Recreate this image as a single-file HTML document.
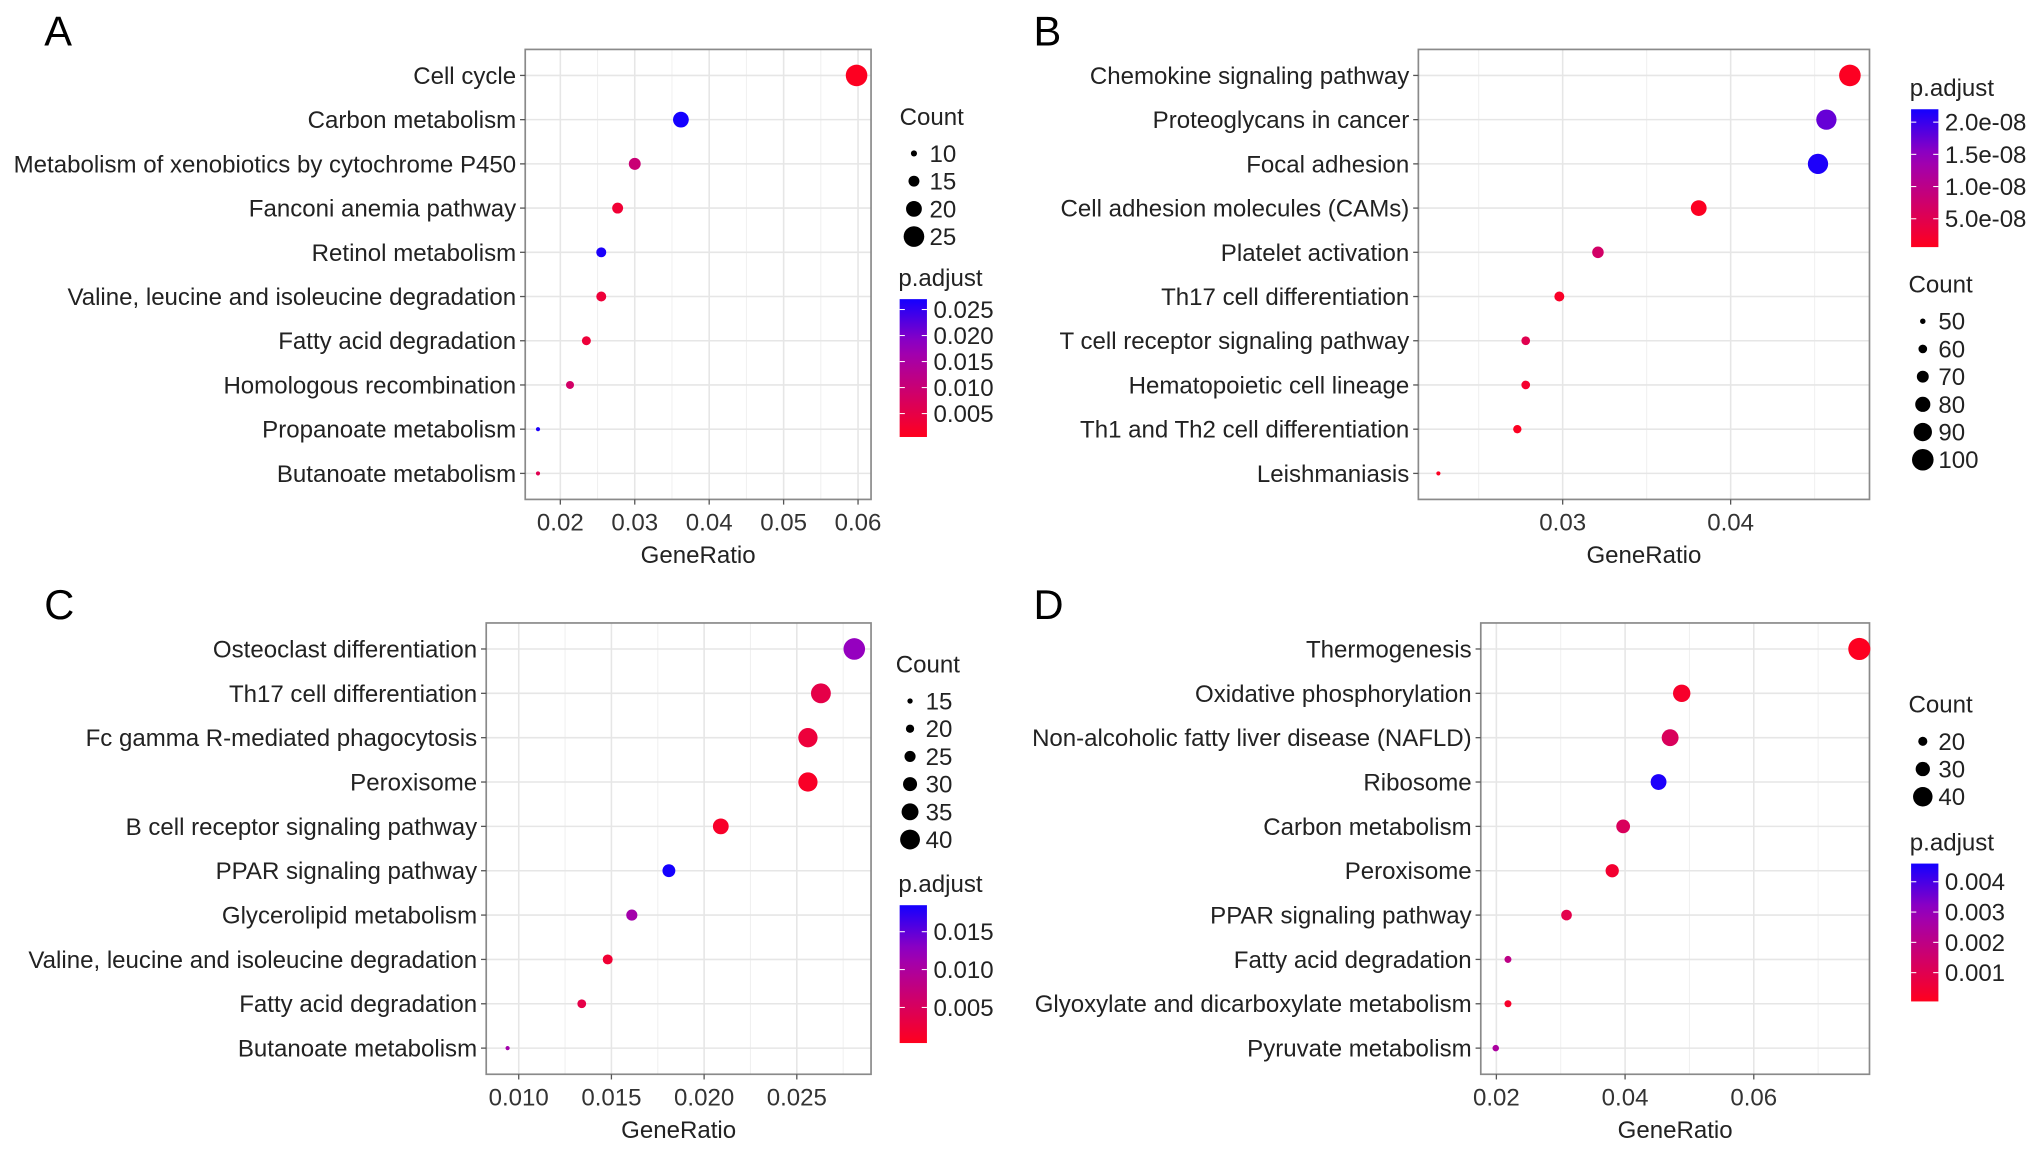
<!DOCTYPE html>
<html><head><meta charset="utf-8"><style>
html,body{margin:0;padding:0;background:#fff;}
svg{display:block;font-family:"Liberation Sans",Arial,sans-serif;}
</style></head><body>
<svg id="fig" width="2032" height="1151" viewBox="0 0 1563 885" preserveAspectRatio="none" xmlns="http://www.w3.org/2000/svg"></svg>
<script>
// ---- Panel A data ----
const termsA = ["Cell cycle","Carbon metabolism","Metabolism of xenobiotics by cytochrome P450","Fanconi anemia pathway","Retinol metabolism","Valine, leucine and isoleucine degradation","Fatty acid degradation","Homologous recombination","Propanoate metabolism","Butanoate metabolism"];
const ratioA = [0.0598,0.0362,0.0300,0.0277,0.0255,0.0255,0.0235,0.0213,0.0170,0.0170];
const countA = [26,20,16,15,14,14,13,12,8,8];
const padjA = [0.0008,0.0270,0.0100,0.0030,0.0265,0.0035,0.0035,0.0085,0.0265,0.0060];
const ticksA = [0.02,0.03,0.04,0.05,0.06];
const tickLabelsA = ["0.02","0.03","0.04","0.05","0.06"];
const countLegA = [10,15,20,25];
const padjLegA = [0.025,0.020,0.015,0.010,0.005];
const padjLegLabelsA = ["0.025","0.020","0.015","0.010","0.005"];
// ---- Panel B data ----
const termsB = ["Chemokine signaling pathway","Proteoglycans in cancer","Focal adhesion","Cell adhesion molecules (CAMs)","Platelet activation","Th17 cell differentiation","T cell receptor signaling pathway","Hematopoietic cell lineage","Th1 and Th2 cell differentiation","Leishmaniasis"];
const ratioB = [0.0471,0.0457,0.0452,0.0381,0.0321,0.0298,0.0278,0.0278,0.0273,0.0226];
const countB = [100,96,96,82,69,64,60,60,59,46];
const padjB = [1e-9,1.75e-8,2.15e-8,1e-9,7e-9,1.5e-9,5e-9,2e-9,1e-9,1e-9];
const ticksB = [0.03,0.04];
const tickLabelsB = ["0.03","0.04"];
const countLegB = [50,60,70,80,90,100];
const padjLegB = [2.0e-8,1.5e-8,1.0e-8,0.5e-8];
const padjLegLabelsB = ["2.0e-08","1.5e-08","1.0e-08","5.0e-08"];
// ---- Panel C data ----
const termsC = ["Osteoclast differentiation","Th17 cell differentiation","Fc gamma R-mediated phagocytosis","Peroxisome","B cell receptor signaling pathway","PPAR signaling pathway","Glycerolipid metabolism","Valine, leucine and isoleucine degradation","Fatty acid degradation","Butanoate metabolism"];
const ratioC = [0.0281,0.0263,0.0256,0.0256,0.0209,0.0181,0.0161,0.0148,0.0134,0.0094];
const countC = [43,40,39,39,33,28,25,23,21,13];
const padjC = [0.0125,0.0035,0.0025,0.0010,0.0012,0.0185,0.0110,0.0020,0.0035,0.0110];
const ticksC = [0.010,0.015,0.020,0.025];
const tickLabelsC = ["0.010","0.015","0.020","0.025"];
const countLegC = [15,20,25,30,35,40];
const padjLegC = [0.015,0.010,0.005];
const padjLegLabelsC = ["0.015","0.010","0.005"];
// ---- Panel D data ----
const termsD = ["Thermogenesis","Oxidative phosphorylation","Non-alcoholic fatty liver disease (NAFLD)","Ribosome","Carbon metabolism","Peroxisome","PPAR signaling pathway","Fatty acid degradation","Glyoxylate and dicarboxylate metabolism","Pyruvate metabolism"];
const ratioD = [0.0764,0.0488,0.0470,0.0452,0.0397,0.0380,0.0309,0.0218,0.0218,0.0199];
const countD = [45,36,35,33,29,28,23,16,16,15];
const padjD = [0.0001,0.0003,0.0012,0.0045,0.0012,0.0004,0.0009,0.0020,0.0003,0.0025];
const ticksD = [0.02,0.04,0.06];
const tickLabelsD = ["0.02","0.04","0.06"];
const countLegD = [20,30,40];
const padjLegD = [0.004,0.003,0.002,0.001];
const padjLegLabelsD = ["0.004","0.003","0.002","0.001"];

const NS="http://www.w3.org/2000/svg";
const FS=18.5;
const svg=document.getElementById('fig');
function mk(tag,attrs,parent){const e=document.createElementNS(NS,tag);for(const k in attrs)e.setAttribute(k,attrs[k]);(parent||svg).appendChild(e);return e;}
function lerp(a,b,t){return a+(b-a)*t;}
function colorOf(t){t=Math.max(0,Math.min(1,t));
  const stops=[[255,0,30],[205,0,110],[150,0,190],[20,0,255]];
  const s=t*3,i=Math.min(2,Math.floor(s)),f=s-i;const a=stops[i],b=stops[i+1];
  return `rgb(${Math.round(lerp(a[0],b[0],f))},${Math.round(lerp(a[1],b[1],f))},${Math.round(lerp(a[2],b[2],f))})`;}

function drawPanel(P){
  const g=mk('g',{});
  
  
  const L=mk('text',{x:P.letterX,y:P.letterY,'font-size':32,fill:'#000'},g);L.textContent=P.id;
  
  
  const xs=v=>P.x0+(v-P.v0)*P.k;
  const ys=i=>P.yTop+i*P.step;
  mk('rect',{x:P.bx0,y:P.by0,width:P.bx1-P.bx0,height:P.by1-P.by0,fill:'#fff'},g);
  const dt=P.ticks[1]-P.ticks[0];
  for(let v=P.ticks[0]-dt*3;v<=P.ticks[P.ticks.length-1]+dt*3;v+=dt/2){
    const x=xs(v);if(x<=P.bx0+1||x>=P.bx1-1)continue;
    mk('line',{x1:x,x2:x,y1:P.by0,y2:P.by1,stroke:'#f0f0f0','stroke-width':0.8},g);}
  P.ticks.forEach(v=>{const x=xs(v);mk('line',{x1:x,x2:x,y1:P.by0,y2:P.by1,stroke:'#e6e6e6','stroke-width':1.2},g);});
  P.terms.forEach((t,i)=>{mk('line',{x1:P.bx0,x2:P.bx1,y1:ys(i),y2:ys(i),stroke:'#e6e6e6','stroke-width':1.2},g);});
  mk('rect',{x:P.bx0,y:P.by0,width:P.bx1-P.bx0,height:P.by1-P.by0,fill:'none',stroke:'#8a8a8a','stroke-width':1.3},g);
  P.terms.forEach((t,i)=>{
    mk('line',{x1:P.bx0-4,x2:P.bx0,y1:ys(i),y2:ys(i),stroke:'#555','stroke-width':1},g);
    const tx=mk('text',{x:P.bx0-7,y:ys(i)+6.5,'text-anchor':'end','font-size':FS,fill:'#222'},g);tx.textContent=t;
    
    
  });
  P.ticks.forEach((v,i)=>{const x=xs(v);
    mk('line',{x1:x,x2:x,y1:P.by1,y2:P.by1+4,stroke:'#555','stroke-width':1},g);
    const tx=mk('text',{x:x,y:P.by1+24,'text-anchor':'middle','font-size':FS,fill:'#333'},g);tx.textContent=P.tickLabels[i];
    
    
  });
  const xt=mk('text',{x:(P.bx0+P.bx1)/2,y:P.by1+49,'text-anchor':'middle','font-size':FS,fill:'#222'},g);xt.textContent='GeneRatio';
  
  
  const rOf=c=>lerp(P.rmin,P.rmax,(c-P.cmin)/(P.cmax-P.cmin));
  const tOf=p=>(p-P.pmin)/(P.pmax-P.pmin);
  P.terms.forEach((t,i)=>{
    const c=mk('circle',{cx:xs(P.ratio[i]),cy:ys(i),r:Math.max(1.2,rOf(P.count[i])),fill:colorOf(tOf(P.padj[i]))},g);
    
    
  });
  const ct=mk('text',{x:P.cLegX,y:P.cLegY,'font-size':FS,fill:'#222'},g);ct.textContent='Count';
  
  
  P.countLeg.forEach((c,i)=>{const y=P.cLegY+22+i*21.3;
    const d=mk('circle',{cx:P.cLegX+11,cy:y,r:rOf(c),fill:'#000'},g);
    
    
    const tx=mk('text',{x:P.cLegX+23,y:y+6.5,'font-size':FS,fill:'#222'},g);tx.textContent=c;
    
    
  });
  const pt=mk('text',{x:P.pLegX,y:P.pLegY,'font-size':FS,fill:'#222'},g);pt.textContent='p.adjust';
  
  
  const gid='grad'+P.id;
  const defs=mk('defs',{},g);const lg=mk('linearGradient',{id:gid,x1:0,y1:1,x2:0,y2:0},defs);
  for(let s=0;s<=10;s++)mk('stop',{offset:s/10,'stop-color':colorOf(s/10)},lg);
  const by0=P.pLegY+10,by1=by0+106;
  const bar=mk('rect',{x:P.pLegX+1,y:by0,width:21,height:106,fill:`url(#${gid})`},g);
  
  
  P.padjLeg.forEach((p,i)=>{const y=lerp(by1,by0,tOf(p));
    mk('line',{x1:P.pLegX+1,x2:P.pLegX+5,y1:y,y2:y,stroke:'#fff','stroke-width':0.8},g);
    mk('line',{x1:P.pLegX+18,x2:P.pLegX+22,y1:y,y2:y,stroke:'#fff','stroke-width':0.8},g);
    const tx=mk('text',{x:P.pLegX+27,y:y+6.5,'font-size':FS,fill:'#222'},g);tx.textContent=P.padjLegLabels[i];
    
    
  });
}

drawPanel({id:'A',letterX:34,letterY:35,bx0:404,bx1:670,by0:38,by1:384,x0:431,v0:0.02,k:5725,yTop:58,step:34,
  terms:termsA,ratio:ratioA,count:countA,padj:padjA,ticks:ticksA,tickLabels:tickLabelsA,
  cmin:8,cmax:26,rmin:1.6,rmax:8.3,pmin:0.0005,pmax:0.027,
  cLegX:692,cLegY:96,countLeg:countLegA,pLegX:691,pLegY:220,padjLeg:padjLegA,padjLegLabels:padjLegLabelsA});
drawPanel({id:'B',letterX:795,letterY:35,bx0:1091,bx1:1438,by0:38,by1:384,x0:1202,v0:0.03,k:12920,yTop:58,step:34,
  terms:termsB,ratio:ratioB,count:countB,padj:padjB,ticks:ticksB,tickLabels:tickLabelsB,
  cmin:46,cmax:100,rmin:1.6,rmax:8.3,pmin:0.6e-9,pmax:2.2e-8,
  cLegX:1468,cLegY:225,countLeg:countLegB,pLegX:1469,pLegY:74,padjLeg:padjLegB,padjLegLabels:padjLegLabelsB});
drawPanel({id:'C',letterX:34,letterY:476,bx0:374,bx1:670,by0:479,by1:826,x0:399,v0:0.01,k:14260,yTop:499,step:34.1,
  terms:termsC,ratio:ratioC,count:countC,padj:padjC,ticks:ticksC,tickLabels:tickLabelsC,
  cmin:13,cmax:43,rmin:1.6,rmax:8.3,pmin:0.0003,pmax:0.0185,
  cLegX:689,cLegY:517,countLeg:countLegC,pLegX:691,pLegY:686,padjLeg:padjLegC,padjLegLabels:padjLegLabelsC});
drawPanel({id:'D',letterX:795,letterY:476,bx0:1139,bx1:1438,by0:479,by1:826,x0:1151,v0:0.02,k:4950,yTop:499,step:34.1,
  terms:termsD,ratio:ratioD,count:countD,padj:padjD,ticks:ticksD,tickLabels:tickLabelsD,
  cmin:15,cmax:45,rmin:2.5,rmax:8.5,pmin:0.00005,pmax:0.0046,
  cLegX:1468,cLegY:548,countLeg:countLegD,pLegX:1469,pLegY:654,padjLeg:padjLegD,padjLegLabels:padjLegLabelsD});
</script>
</body></html>
